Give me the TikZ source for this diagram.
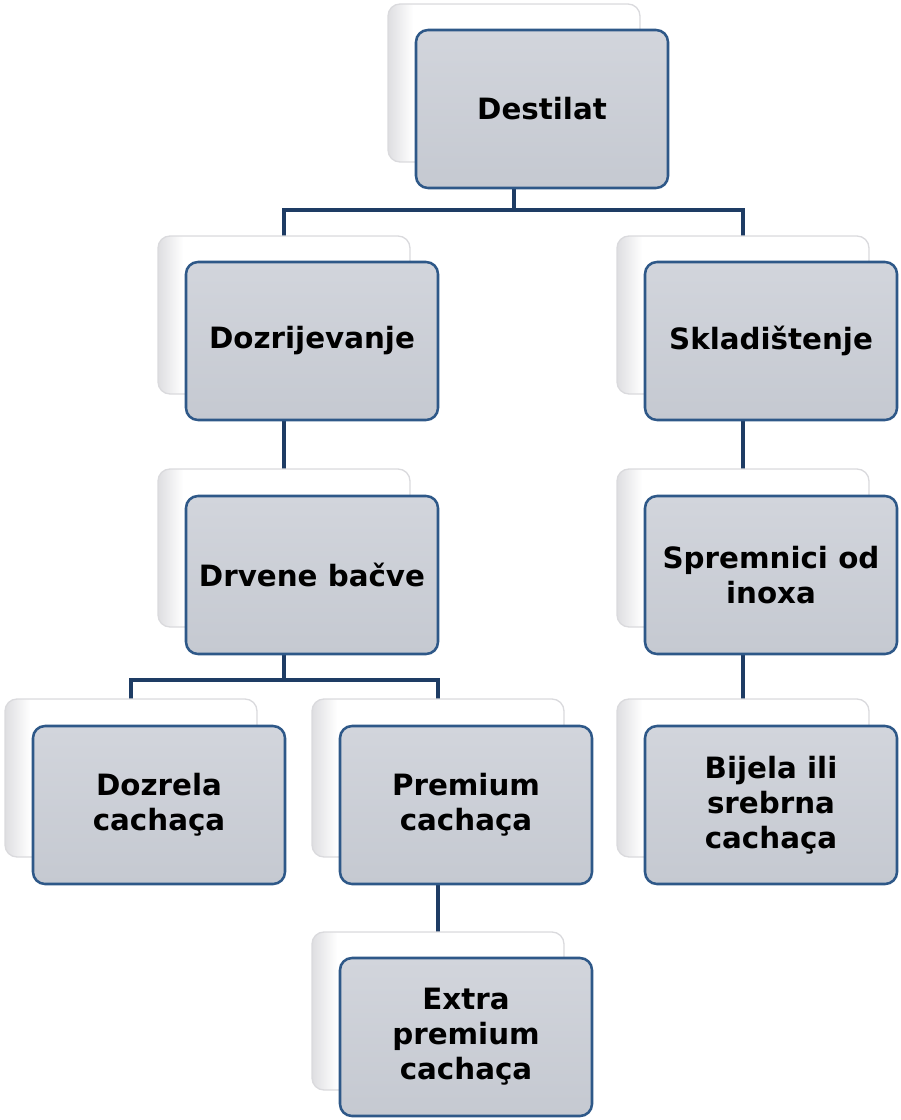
\documentclass[tikz,border=0pt]{standalone}
\usepackage{fontspec}
\setmainfont{DejaVu Sans}
\usetikzlibrary{calc}
\definecolor{frontT}{RGB}{210,213,220}
\definecolor{frontB}{RGB}{197,201,209}
\definecolor{frontBorder}{RGB}{46,88,136}
\definecolor{backBorder}{RGB}{218,218,221}
\definecolor{backL}{RGB}{222,222,225}
\definecolor{connC}{RGB}{30,60,100}
\pgfdeclarehorizontalshading{backsh}{100bp}{color(0bp)=(backL); color(25bp)=(backL); color(30bp)=(white); color(100bp)=(white)}
\tikzset{
  frontbox/.style={rectangle, rounded corners=9pt, draw=frontBorder, line width=1.9pt,
    top color=frontT, bottom color=frontB, minimum width=189pt, minimum height=118.5pt,
    inner sep=0pt, outer sep=0pt, align=center, text=black,
    font=\fontsize{22}{26.25}\selectfont\bfseries},
  backbox/.style={rectangle, rounded corners=9pt, draw=backBorder, line width=1pt,
    shading=backsh, minimum width=189pt, minimum height=118.5pt, inner sep=0pt, outer sep=0pt},
  conn/.style={draw=connC, line width=3pt}
}
\begin{document}
\begin{tikzpicture}[x=0.75pt,y=-0.75pt]
\useasboundingbox (0,0) rectangle (900,1120);
% junction coordinates
\coordinate (j1) at (514,210);
\coordinate (j2) at (284,680);
% connectors (drawn behind the boxes)
\draw[conn] (514,83) |- (j1) -| (284,315);
\draw[conn] (j1) -| (743,315);
\draw[conn] (284,315) -- (284,548);
\draw[conn] (743,315) -- (743,548);
\draw[conn] (284,548) |- (j2) -| (131,778);
\draw[conn] (j2) -| (438,778);
\draw[conn] (743,548) -- (743,778);
\draw[conn] (438,778) -- (438,1011);
% back boxes
\node[backbox] (dest-b) at (514,83) {};
\node[backbox] (doz-b) at (284,315) {};
\node[backbox] (skl-b) at (743,315) {};
\node[backbox] (drv-b) at (284,548) {};
\node[backbox] (spr-b) at (743,548) {};
\node[backbox] (dzc-b) at (131,778) {};
\node[backbox] (prm-b) at (438,778) {};
\node[backbox] (bij-b) at (743,778) {};
\node[backbox] (ext-b) at (438,1011) {};
% front boxes
\node[frontbox] (dest) at (542,109) {Destilat};
\node[frontbox] (doz) at (312,341) {Dozrijevanje};
\node[frontbox] (skl) at (771,341) {Skladištenje};
\node[frontbox] (drv) at (312,575) {Drvene bačve};
\node[frontbox] (spr) at (771,575) {Spremnici od\\inoxa};
\node[frontbox] (dzc) at (159,805) {Dozrela\\cachaça};
\node[frontbox] (prm) at (466,805) {Premium\\cachaça};
\node[frontbox] (bij) at (771,805) {Bijela ili\\srebrna\\cachaça};
\node[frontbox] (ext) at (466,1037) {Extra\\premium\\cachaça};
\end{tikzpicture}
\end{document}
